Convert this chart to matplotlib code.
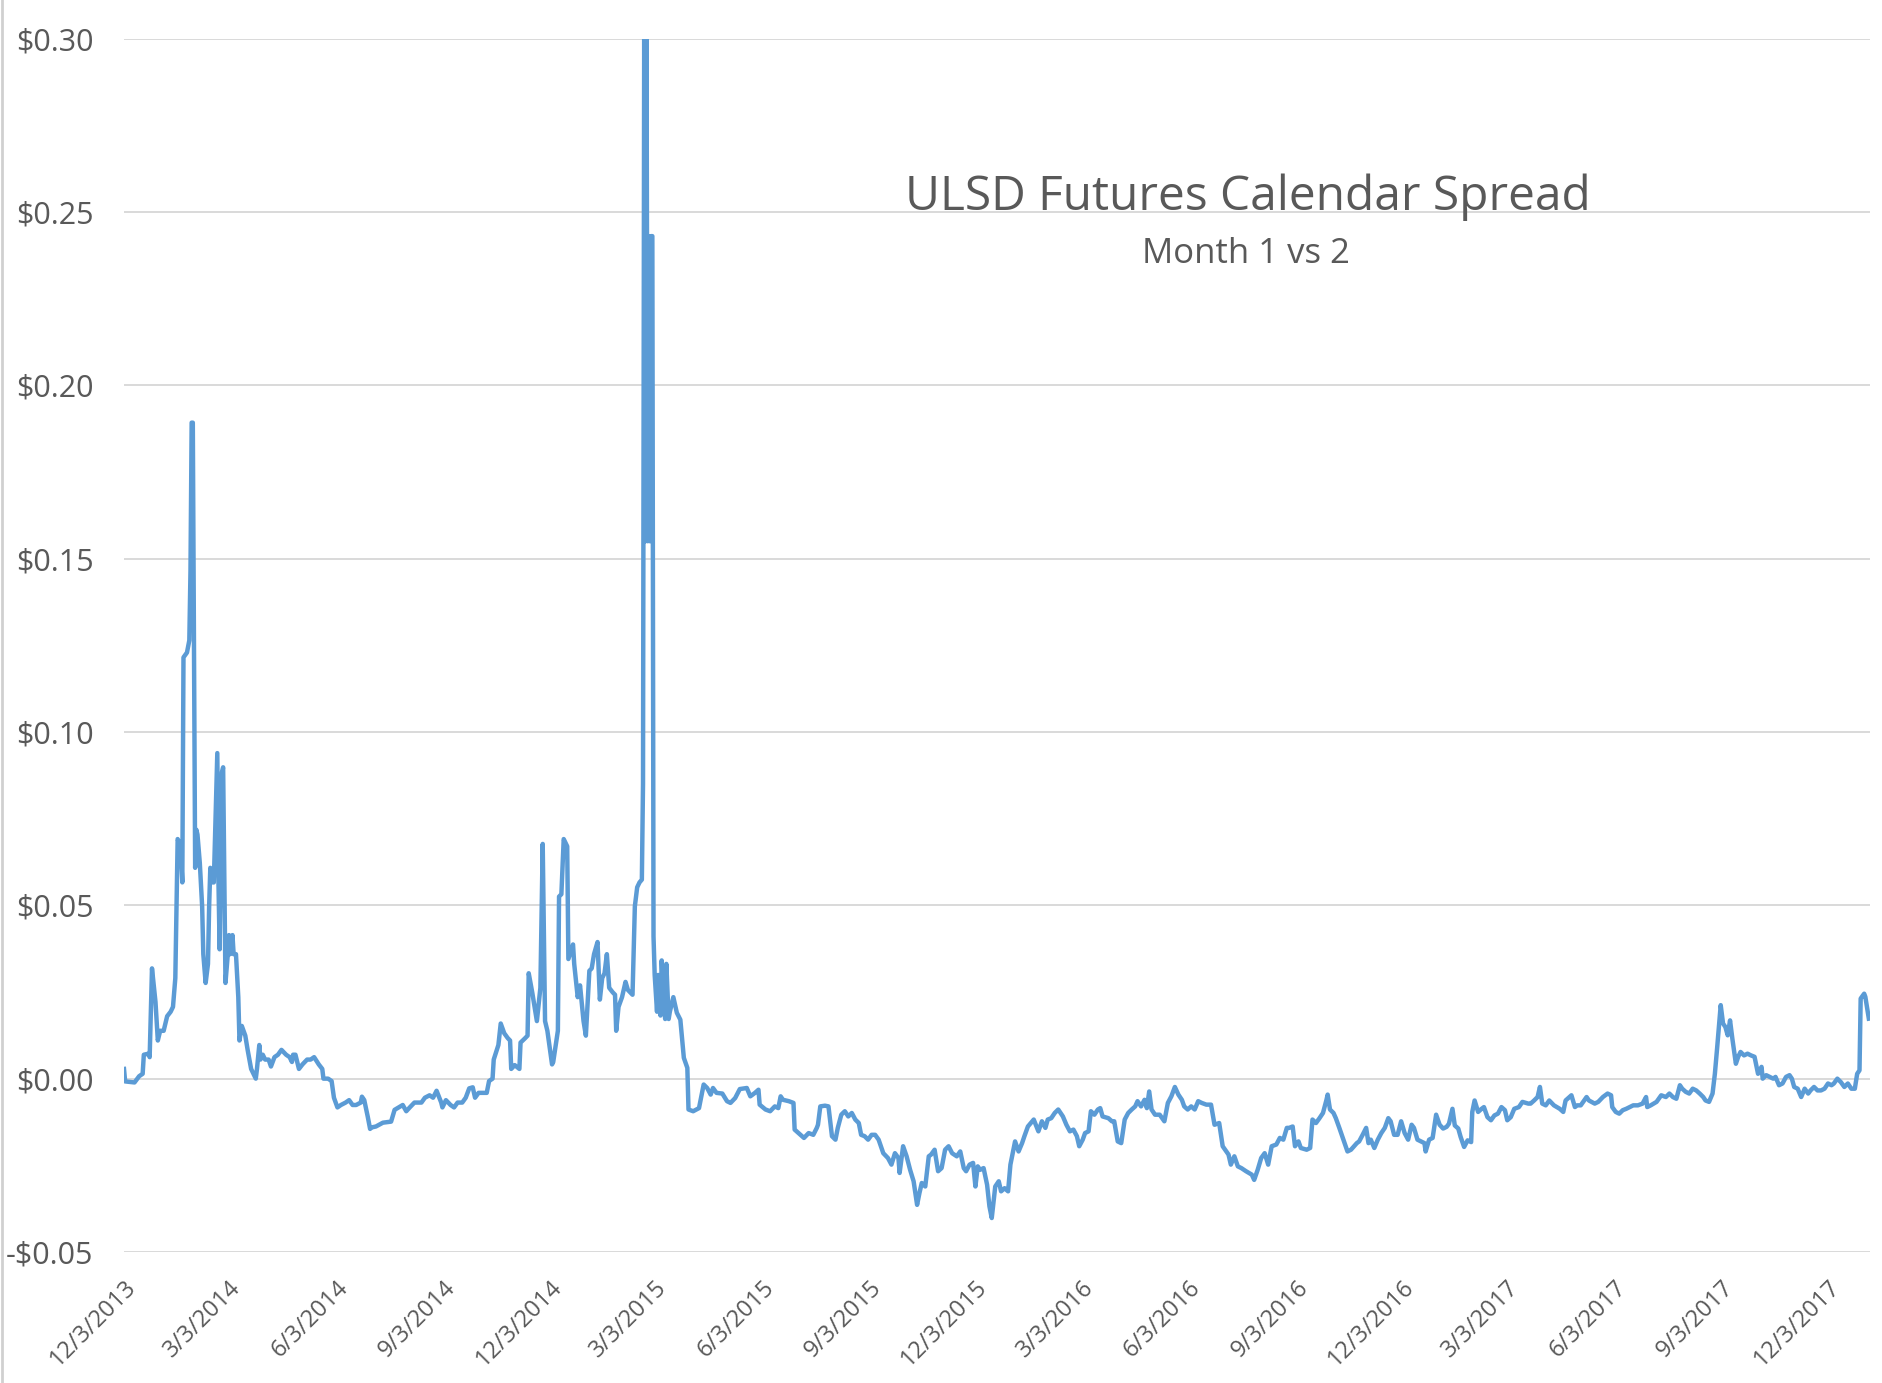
import matplotlib
matplotlib.use("Agg")
import matplotlib.pyplot as plt
from matplotlib.lines import Line2D
import pandas as pd

# ---------------- data ----------------
start_date = "2013-12-03"
# day offsets (days since 12/3/2013) of the sampled points
day_offsets = [
    0, 1, 9, 13, 16, 17, 21, 22, 24, 27, 29, 31, 34, 37, 40, 42, 44, 45, 46, 48, 49, 50, 51, 54, 56, 57, 58, 59,
    61, 62, 63, 65, 67, 68, 70, 72, 73, 74, 76, 77, 80, 81, 82, 84, 85, 87, 89, 90, 91, 93, 94, 96, 98, 99, 101,
    104, 106, 109, 113, 114, 116, 117, 119, 121, 124, 126, 129, 132, 135, 139, 142, 144, 145, 147, 150, 153, 157,
    160, 163, 167, 170, 171, 175, 178, 180, 183, 186, 190, 193, 196, 199, 203, 204, 206, 209, 211, 212, 216, 222,
    229, 232, 239, 242, 245, 249, 252, 255, 258, 262, 265, 268, 272, 273, 276, 280, 283, 286, 290, 293, 296, 299,
    301, 304, 308, 311, 313, 316, 317, 321, 323, 326, 329, 331, 332, 335, 339, 340, 344, 346, 347, 350, 354, 357,
    359, 361, 363, 367, 368, 372, 373, 375, 377, 380, 381, 385, 386, 389, 391, 394, 396, 399, 401, 403, 406, 408,
    410, 412, 414, 416, 419, 421, 422, 424, 427, 430, 432, 434, 436, 438, 440, 442,
    444, 445, 446, 447, 448, 449, 450, 451, 452, 453, 454,
    455, 457, 458, 460, 461, 463, 464, 465, 467, 468, 471, 474, 477, 480, 481, 483, 484, 488, 493, 497, 500, 503,
    505, 508, 513, 517, 520, 524, 528, 534, 537, 541, 544, 545, 550, 554, 558, 561, 563, 565, 570, 574, 575, 580,
    583, 587, 591, 594, 595, 597, 601, 604, 607, 610, 612, 615, 618, 621, 624, 627, 630, 632, 635, 638, 641, 644,
    647, 651, 655, 658, 661, 664, 665, 668, 671, 674, 677, 680, 682, 684, 687, 690, 692, 695, 698, 701, 704, 707,
    710, 714, 717, 720, 722, 725, 728, 730, 732, 734, 737, 740, 742, 744, 747, 750, 752, 755, 758, 760, 764, 767,
    770, 772, 775, 780, 784, 787, 790, 792, 795, 798, 801,
    805, 808, 811, 814, 817, 819, 822, 824, 827, 829, 832, 835, 837, 839, 844, 847, 849, 852, 855, 858, 861, 864,
    867, 869, 872, 875, 877, 879, 881, 884, 888, 892, 895, 898, 901, 904, 907, 909, 912, 915, 918, 921, 924, 928,
    932, 935, 939, 942, 947, 949, 952, 955, 958, 962, 967, 969, 972, 975, 978, 981, 984, 988, 991, 994, 997, 999,
    1002, 1004, 1007, 1009, 1014, 1017, 1019, 1022, 1025, 1028, 1031, 1032, 1034, 1037, 1039, 1042, 1045, 1049,
    1052, 1057, 1059, 1062, 1065, 1067, 1069, 1072, 1075, 1078, 1081, 1084, 1086, 1089, 1092, 1095, 1098, 1101,
    1104, 1106, 1109, 1112, 1115, 1116, 1119, 1122, 1125, 1128,
    1131, 1134, 1136, 1139, 1141, 1144, 1146, 1149, 1152, 1155, 1156, 1158, 1161, 1164, 1166, 1169, 1172, 1175,
    1178, 1181, 1184, 1186, 1189, 1192, 1196, 1199, 1204, 1206, 1209, 1212, 1214, 1216, 1219, 1222, 1226, 1231,
    1234, 1236, 1241, 1244, 1246, 1249, 1254, 1256, 1261, 1264, 1268, 1272, 1275, 1276, 1279, 1282, 1285, 1288,
    1291, 1294, 1298, 1302, 1305, 1306, 1309, 1314, 1318, 1322, 1325, 1328, 1331, 1334, 1336, 1339, 1342, 1345,
    1348, 1351, 1354, 1356, 1359, 1362, 1364, 1366, 1369, 1371, 1373, 1375, 1377, 1379, 1382, 1384, 1386, 1389,
    1392, 1395, 1398, 1401, 1404, 1405, 1408, 1411, 1414, 1416, 1419, 1422, 1425, 1428, 1430, 1432, 1435, 1438,
    1441, 1444, 1446, 1449, 1452, 1455, 1458, 1461, 1464, 1466, 1469, 1472, 1475, 1478, 1481, 1484, 1486, 1488,
    1489, 1492, 1493, 1496,
]
spread = [
    0.0028, -0.0008, -0.0011, 0.0007, 0.0014, 0.0069, 0.0072, 0.0062, 0.0318, 0.0221, 0.0110, 0.0138, 0.0138,
    0.0180, 0.0193, 0.0207, 0.0290, 0.0497, 0.0691, 0.0677, 0.0635, 0.0566, 0.1215, 0.1229, 0.1264, 0.1464,
    0.1892, 0.1892, 0.0608, 0.0718, 0.0704, 0.0622, 0.0497, 0.0359, 0.0276, 0.0331, 0.0497, 0.0608, 0.0566,
    0.0566, 0.0939, 0.0566, 0.0373, 0.0884, 0.0898, 0.0276, 0.0359, 0.0414, 0.0359, 0.0414, 0.0359, 0.0359,
    0.0235, 0.0110, 0.0152, 0.0124, 0.0083, 0.0028, 0.0000, 0.0028, 0.0097, 0.0055, 0.0069, 0.0055, 0.0055,
    0.0035, 0.0062, 0.0069, 0.0083, 0.0069, 0.0062, 0.0048, 0.0069, 0.0069, 0.0028, 0.0041, 0.0055, 0.0055,
    0.0062, 0.0041, 0.0028, 0.0000, 0.0000, -0.0007, -0.0055, -0.0083, -0.0076, -0.0069, -0.0062, -0.0076,
    -0.0076, -0.0069, -0.0052, -0.0062, -0.0110, -0.0145, -0.0141, -0.0138, -0.0127, -0.0124, -0.0090, -0.0076,
    -0.0094, -0.0083, -0.0069, -0.0069, -0.0069, -0.0055, -0.0048, -0.0055, -0.0035, -0.0069, -0.0083, -0.0062,
    -0.0076, -0.0083, -0.0069, -0.0069, -0.0055, -0.0028, -0.0025, -0.0055, -0.0041, -0.0041, -0.0041, -0.0007,
    0.0000, 0.0055, 0.0097, 0.0159, 0.0131, 0.0117, 0.0110, 0.0028, 0.0039, 0.0028, 0.0104, 0.0117, 0.0124,
    0.0304, 0.0249, 0.0166, 0.0262, 0.0677, 0.0166, 0.0138, 0.0041, 0.0048, 0.0138, 0.0525, 0.0532, 0.0691,
    0.0670, 0.0345, 0.0387, 0.0331, 0.0235, 0.0269, 0.0166, 0.0124, 0.0311, 0.0318, 0.0359, 0.0394, 0.0228,
    0.0290, 0.0304, 0.0359, 0.0262, 0.0249, 0.0242, 0.0138, 0.0207, 0.0235, 0.0279, 0.0256, 0.0249, 0.0242,
    0.0497, 0.0552, 0.0566,
    0.0574, 0.0850, 0.3000, 0.1550, 0.3000, 0.1550, 0.2430, 0.1550, 0.2430, 0.2430, 0.0410,
    0.0299, 0.0193, 0.0299, 0.0182, 0.0341, 0.0214, 0.0172, 0.0331, 0.0172, 0.0193, 0.0235, 0.0190, 0.0170,
    0.0060, 0.0050, 0.0031, -0.0089, -0.0094, -0.0085, -0.0017, -0.0027, -0.0046, -0.0027, -0.0041, -0.0043,
    -0.0065, -0.0070, -0.0056, -0.0030, -0.0027, -0.0051, -0.0041, -0.0032, -0.0075, -0.0089, -0.0094, -0.0080,
    -0.0085, -0.0051, -0.0061, -0.0065, -0.0070, -0.0147, -0.0162, -0.0171, -0.0157, -0.0162, -0.0142, -0.0133,
    -0.0080, -0.0078, -0.0080, -0.0166, -0.0176, -0.0142, -0.0104, -0.0094, -0.0109, -0.0099, -0.0118, -0.0128,
    -0.0162, -0.0166, -0.0176, -0.0162, -0.0162, -0.0176, -0.0215, -0.0229, -0.0248, -0.0215, -0.0229, -0.0272,
    -0.0195, -0.0224, -0.0263, -0.0296, -0.0364, -0.0330, -0.0301, -0.0311, -0.0224, -0.0219, -0.0205, -0.0267,
    -0.0258, -0.0205, -0.0195, -0.0215, -0.0224, -0.0210, -0.0258, -0.0267, -0.0248, -0.0243, -0.0311, -0.0253,
    -0.0263, -0.0258, -0.0306, -0.0368, -0.0402, -0.0311, -0.0296, -0.0325, -0.0316, -0.0325, -0.0248, -0.0181,
    -0.0210, -0.0186, -0.0166, -0.0138, -0.0118, -0.0152, -0.0123, -0.0142, -0.0118, -0.0114, -0.0099, -0.0089,
    -0.0109, -0.0133, -0.0152, -0.0147, -0.0166, -0.0195, -0.0176, -0.0157, -0.0152, -0.0094, -0.0104, -0.0089,
    -0.0085, -0.0109, -0.0114, -0.0123, -0.0123, -0.0181, -0.0186, -0.0118, -0.0099, -0.0089, -0.0080, -0.0065,
    -0.0080, -0.0061, -0.0085, -0.0037, -0.0089, -0.0104, -0.0104, -0.0123, -0.0070, -0.0051, -0.0024, -0.0046,
    -0.0061, -0.0080, -0.0089, -0.0080, -0.0089, -0.0065, -0.0070, -0.0075, -0.0075, -0.0133, -0.0128, -0.0195,
    -0.0219, -0.0248, -0.0224, -0.0253, -0.0258, -0.0267, -0.0277, -0.0292, -0.0263, -0.0229, -0.0215, -0.0248,
    -0.0195, -0.0190, -0.0171, -0.0176, -0.0142, -0.0142, -0.0138, -0.0195, -0.0181, -0.0200, -0.0205, -0.0200,
    -0.0118, -0.0128, -0.0114, -0.0099, -0.0061, -0.0046, -0.0089, -0.0099, -0.0114, -0.0142, -0.0171, -0.0210,
    -0.0205, -0.0186, -0.0181, -0.0162, -0.0142, -0.0186, -0.0176, -0.0200, -0.0176, -0.0157, -0.0142, -0.0114,
    -0.0123, -0.0162, -0.0162, -0.0123, -0.0157, -0.0176, -0.0133, -0.0142, -0.0176, -0.0181, -0.0186, -0.0210,
    -0.0176, -0.0171, -0.0104, -0.0133,
    -0.0144, -0.0139, -0.0130, -0.0087, -0.0135, -0.0144, -0.0168, -0.0197, -0.0178, -0.0183, -0.0096, -0.0063,
    -0.0096, -0.0087, -0.0082, -0.0111, -0.0120, -0.0106, -0.0101, -0.0082, -0.0091, -0.0120, -0.0111, -0.0087,
    -0.0082, -0.0067, -0.0072, -0.0072, -0.0063, -0.0053, -0.0024, -0.0072, -0.0077, -0.0063, -0.0077, -0.0087,
    -0.0096, -0.0063, -0.0048, -0.0082, -0.0077, -0.0077, -0.0053, -0.0063, -0.0072, -0.0067, -0.0053, -0.0043,
    -0.0048, -0.0082, -0.0096, -0.0101, -0.0091, -0.0087, -0.0082, -0.0077, -0.0077, -0.0072, -0.0053, -0.0082,
    -0.0077, -0.0067, -0.0048, -0.0053, -0.0043, -0.0053, -0.0058, -0.0019, -0.0029, -0.0038, -0.0043, -0.0029,
    -0.0034, -0.0043, -0.0053, -0.0063, -0.0067, -0.0043, 0.0014, 0.0091, 0.0212, 0.0159, 0.0149, 0.0125,
    0.0168, 0.0115, 0.0043, 0.0063, 0.0077, 0.0067, 0.0072, 0.0067, 0.0063, 0.0014, 0.0034, 0.0000, 0.0010,
    0.0005, 0.0000, 0.0005, -0.0019, -0.0014, 0.0005, 0.0010, 0.0000, -0.0024, -0.0029, -0.0053, -0.0029,
    -0.0043, -0.0034, -0.0024, -0.0034, -0.0034, -0.0029, -0.0014, -0.0019, -0.0014, 0.0000, -0.0010, -0.0024,
    -0.0014, -0.0029, -0.0029, 0.0014, 0.0024, 0.0231, 0.0245, 0.0236, 0.0173,
]
tick_dates = ["2013-12-03", "2014-03-03", "2014-06-03", "2014-09-03", "2014-12-03", "2015-03-03",
              "2015-06-03", "2015-09-03", "2015-12-03", "2016-03-03", "2016-06-03", "2016-09-03",
              "2016-12-03", "2017-03-03", "2017-06-03", "2017-09-03", "2017-12-03"]
tick_labels = ["12/3/2013", "3/3/2014", "6/3/2014", "9/3/2014", "12/3/2014", "3/3/2015", "6/3/2015",
               "9/3/2015", "12/3/2015", "3/3/2016", "6/3/2016", "9/3/2016", "12/3/2016", "3/3/2017",
               "6/3/2017", "9/3/2017", "12/3/2017"]
y_ticks = [-0.05, 0.00, 0.05, 0.10, 0.15, 0.20, 0.25, 0.30]
y_labels = ["-$0.05", "$0.00", "$0.05", "$0.10", "$0.15", "$0.20", "$0.25", "$0.30"]
title = "ULSD Futures Calendar Spread"
subtitle = "Month 1 vs 2"

# ---------------- plot ----------------
plt.rcParams["font.family"] = ["Open Sans", "DejaVu Sans"]
TXT = "#595959"
LINE = "#5B9BD5"

dates = pd.Timestamp(start_date) + pd.to_timedelta(day_offsets, unit="D")

fig = plt.figure(figsize=(18.82, 13.83), dpi=100)
ax = fig.add_axes([124 / 1882, 1 - 1252 / 1383, (1870 - 124) / 1882, (1252 - 38.5) / 1383])

ax.plot(dates, spread, color=LINE, lw=3.2, solid_joinstyle="round", zorder=3)

ax.set_ylim(-0.05, 0.30)
ax.set_xlim(pd.Timestamp(start_date), pd.Timestamp(start_date) + pd.Timedelta(days=1497))
ax.set_yticks(y_ticks)
ax.set_yticklabels(y_labels)
ax.set_xticks(pd.to_datetime(tick_dates))
ax.set_xticklabels(tick_labels, rotation=45, ha="right", va="top", rotation_mode="anchor")

ax.grid(axis="y", color="#D9D9D9", lw=1.4, zorder=0)
ax.grid(axis="x", visible=False)
for s in ax.spines.values():
    s.set_visible(False)
ax.tick_params(axis="both", length=0, colors=TXT)
ax.tick_params(axis="y", labelsize=22, pad=22)
ax.tick_params(axis="x", labelsize=17, pad=17)

fig.text(1248 / 1882, 1 - 210 / 1383, title, ha="center", va="baseline", fontsize=34.5, color=TXT)
fig.text(1246 / 1882, 1 - 263 / 1383, subtitle, ha="center", va="baseline", fontsize=25, color=TXT)

fig.add_artist(Line2D([0.0008, 0.0008], [0, 1], transform=fig.transFigure, color="#D0D0D0", lw=2))

fig.savefig("out.png", dpi=100, facecolor="white")
